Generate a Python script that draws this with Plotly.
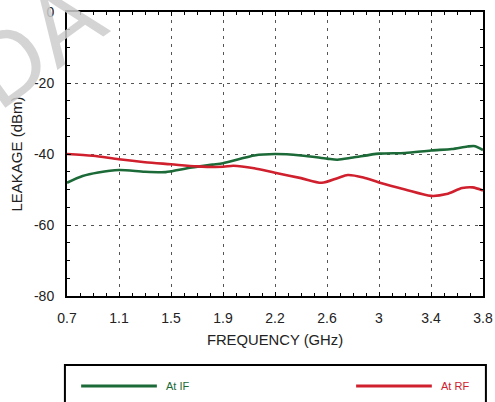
import plotly.graph_objects as go

# Tick labels (evenly spaced categories on the frequency axis)
freq_labels = ["0.7", "1.1", "1.5", "1.9", "2.2", "2.6", "3", "3.4", "3.8"]
y_tick_vals = [0, -20, -40, -60, -80]
y_tick_labels = ["0", "-20", "-40", "-60", "-80"]

# Series positions along the frequency axis (in tick-index units) and values (dBm)
if_pos = [0, 0.3, 0.6, 1.0, 1.5, 1.9, 2.0, 2.4, 2.8, 3.0, 3.3, 3.6, 4.0, 4.5, 5.0, 5.2, 5.5, 6.0, 6.5, 7.0, 7.4, 7.7, 7.85, 8.0]
if_leak = [-48.1, -46.2, -45.2, -44.5, -45.0, -45.1, -44.9, -43.8, -43.0, -42.6, -41.5, -40.4, -40.0, -40.4, -41.3, -41.6, -41.0, -39.9, -39.7, -39.0, -38.6, -37.9, -37.8, -38.9]

rf_pos = [0, 0.5, 1.0, 1.5, 2.0, 2.5, 3.0, 3.2, 3.6, 4.0, 4.5, 4.9, 5.2, 5.4, 5.7, 6.0, 6.5, 7.0, 7.3, 7.6, 7.8, 8.0]
rf_leak = [-40.0, -40.5, -41.5, -42.3, -42.9, -43.5, -43.6, -43.3, -44.0, -45.3, -46.8, -48.1, -46.8, -45.9, -46.6, -48.0, -50.0, -51.8, -51.3, -49.6, -49.4, -50.3]

series_names = ["At IF", "At RF"]
GREEN = "#1b6a37"
RED = "#d0202e"
FONT = "Liberation Sans, Arial, sans-serif"

fig = go.Figure()
fig.add_trace(go.Scatter(x=if_pos, y=if_leak, mode="lines", name=series_names[0],
                         line=dict(color=GREEN, width=2.6, shape="spline", smoothing=0.8)))
fig.add_trace(go.Scatter(x=rf_pos, y=rf_leak, mode="lines", name=series_names[1],
                         line=dict(color=RED, width=2.6, shape="spline", smoothing=0.8)))

axis_common = dict(
    showline=True, linecolor="black", linewidth=2, mirror="allticks",
    ticks="inside", ticklen=4, tickcolor="black", tickwidth=1,
    showgrid=True, gridcolor="#555555", gridwidth=1, griddash="3px,5px",
    zeroline=False, automargin=False,
    tickfont=dict(family=FONT, size=14, color="#222222"),
)

fig.update_xaxes(
    **axis_common,
    range=[0, 8], tickmode="array", tickvals=list(range(len(freq_labels))), ticktext=freq_labels,
    minor=dict(ticks="inside", dtick=0.25, ticklen=3, tickcolor="black", showgrid=False),
    title=dict(text="FREQUENCY (GHz)", font=dict(family=FONT, size=14.8, color="#222222"), standoff=10),
    ticklabelstandoff=8,
)
fig.update_yaxes(
    **axis_common,
    range=[-80, 0], tickmode="array", tickvals=y_tick_vals, ticktext=y_tick_labels,
    minor=dict(ticks="inside", dtick=5, ticklen=3, tickcolor="black", showgrid=False),
    title=dict(text="LEAKAGE (dBm)", font=dict(family=FONT, size=15, color="#222222"), standoff=8),
    ticklabelstandoff=8,
)

# Manual legend box beneath the chart
shapes = [
    dict(type="rect", xref="paper", yref="paper", x0=-0.005, x1=1.007, y0=-0.243, y1=-0.45,
         line=dict(color="black", width=2), fillcolor="rgba(0,0,0,0)", layer="above"),
    dict(type="line", xref="paper", yref="paper", x0=0.034, x1=0.216, y0=-0.317, y1=-0.317,
         line=dict(color=GREEN, width=3)),
    dict(type="line", xref="paper", yref="paper", x0=0.695, x1=0.877, y0=-0.317, y1=-0.317,
         line=dict(color=RED, width=3)),
]
annotations = [
    dict(text=series_names[0], xref="paper", yref="paper", x=0.234, y=-0.317, xanchor="left", yanchor="middle",
         showarrow=False, font=dict(family=FONT, size=11, color=GREEN)),
    dict(text=series_names[1], xref="paper", yref="paper", x=0.895, y=-0.317, xanchor="left", yanchor="middle",
         showarrow=False, font=dict(family=FONT, size=11, color=RED)),
    dict(text="DA", xref="paper", yref="paper", x=-0.077, y=0.89, xanchor="center", yanchor="middle",
         showarrow=False, textangle=-36,
         font=dict(family=FONT, size=100, color="rgba(205,205,205,0.85)")),
]

fig.update_layout(
    width=495, height=402,
    margin=dict(l=67, r=12, t=12, b=106),
    paper_bgcolor="white", plot_bgcolor="white",
    showlegend=False,
    shapes=shapes, annotations=annotations,
)

# Remove the default page margin so the figure fills the window exactly
fig.write_html("out.html", config={"displayModeBar": False},
               post_script="document.body.style.margin='0';document.body.style.overflow='hidden';")
